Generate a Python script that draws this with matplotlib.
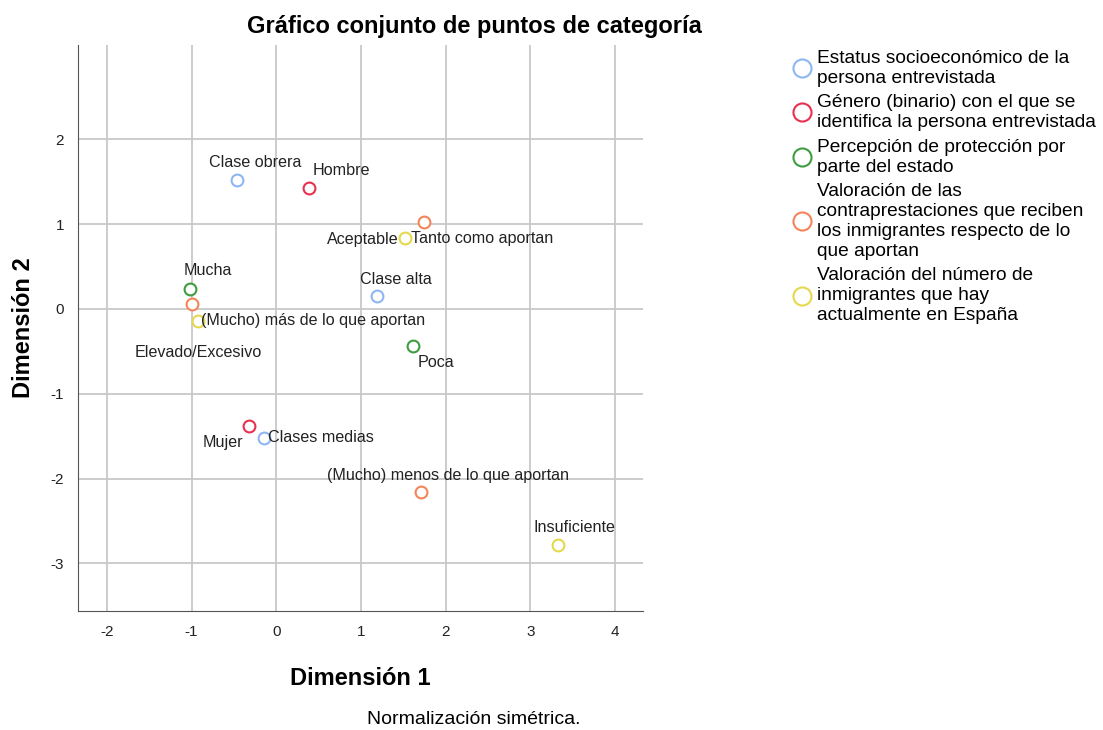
import matplotlib
matplotlib.use('Agg')
import matplotlib.pyplot as plt
from matplotlib.lines import Line2D

plt.rcParams['font.family'] = ['Liberation Sans', 'DejaVu Sans']
plt.rcParams['axes.unicode_minus'] = False

# category coordinates per variable (dimension 1, dimension 2)
estatus_labels = ['Clase obrera', 'Clase alta', 'Clases medias']
estatus_x = [-0.46, 1.19, -0.14]
estatus_y = [1.52, 0.15, -1.52]

genero_labels = ['Hombre', 'Mujer']
genero_x = [0.39, -0.32]
genero_y = [1.43, -1.38]

proteccion_labels = ['Mucha', 'Poca']
proteccion_x = [-1.02, 1.62]
proteccion_y = [0.24, -0.44]

contra_labels = ['Tanto como aportan', '(Mucho) más de lo que aportan', '(Mucho) menos de lo que aportan']
contra_x = [1.75, -0.99, 1.71]
contra_y = [1.03, 0.06, -2.16]

numero_labels = ['Aceptable', 'Elevado/Excesivo', 'Insuficiente']
numero_x = [1.52, -0.92, 3.33]
numero_y = [0.83, -0.14, -2.78]

legend_names = [
    'Estatus socioeconómico de la\npersona entrevistada',
    'Género (binario) con el que se\nidentifica la persona entrevistada',
    'Percepción de protección por\nparte del estado',
    'Valoración de las\ncontraprestaciones que reciben\nlos inmigrantes respecto de lo\nque aportan',
    'Valoración del número de\ninmigrantes que hay\nactualmente en España',
]
colors = ['#8db6f2', '#e8304f', '#3f9c3f', '#f5845a', '#e6d84c']

# label placement: (dx, dy) in pixels, horizontal alignment
estatus_pos = [((18, 17), 'center'), ((19, 17), 'center'), ((4, 0), 'left')]
genero_pos = [((32, 17), 'center'), ((-26, -16), 'center')]
proteccion_pos = [((18, 18), 'center'), ((22, -16), 'center')]
contra_pos = [((-13, -17), 'left'), ((9, -17), 'left'), ((27, 17), 'center')]
numero_pos = [((-6, -1), 'right'), ((0, -32), 'center'), ((16, 17), 'center')]

fig = plt.figure(figsize=(11.03, 7.3), dpi=100)
ax = fig.add_axes([78 / 1103, 1 - 611 / 730, (643 - 78) / 1103, (611 - 45) / 730])

groups = [
    (estatus_x, estatus_y, estatus_labels, estatus_pos),
    (genero_x, genero_y, genero_labels, genero_pos),
    (proteccion_x, proteccion_y, proteccion_labels, proteccion_pos),
    (contra_x, contra_y, contra_labels, contra_pos),
    (numero_x, numero_y, numero_labels, numero_pos),
]

for (xs, ys, labels, pos), c in zip(groups, colors):
    ax.plot(xs, ys, 'o', ls='none', mfc='white', mec=c, mew=1.5, ms=8.5, zorder=3)
    for x, y, lab, (off, ha) in zip(xs, ys, labels, pos):
        ax.annotate(lab, (x, y), xytext=off, textcoords='offset pixels',
                    ha=ha, va='center', fontsize=11.6, color='#222222', zorder=4)

ax.set_xlim(-2.34, 4.33)
ax.set_ylim(-3.56, 3.11)
ax.set_xticks([-2, -1, 0, 1, 2, 3, 4])
ax.set_yticks([-3, -2, -1, 0, 1, 2])
ax.grid(True, color='#c8c8c8', lw=1.3)
ax.set_axisbelow(True)
for s in ['top', 'right']:
    ax.spines[s].set_visible(False)
for s in ['left', 'bottom']:
    ax.spines[s].set_color('#555555')
ax.tick_params(length=0, labelsize=11, pad=10, colors='#222222')

ax.set_xlabel('Dimensión 1', fontsize=17, fontweight='bold', labelpad=20)
ax.set_ylabel('Dimensión 2', fontsize=17, fontweight='bold', labelpad=11)
fig.text(474 / 1103, 1 - 27 / 730, 'Gráfico conjunto de puntos de categoría',
         ha='center', va='center', fontsize=17, fontweight='bold')
fig.text(474 / 1103, 1 - 720 / 730, 'Normalización simétrica.',
         ha='center', va='center', fontsize=14)

handles = [Line2D([], [], marker='o', ls='none', mfc='white', mec=c, mew=1.5, ms=13)
           for c in colors]
leg = fig.legend(handles, legend_names, loc='upper left', bbox_to_anchor=(783 / 1103, 1 - 42 / 730),
                 frameon=False, fontsize=13.8, handletextpad=0.15, labelspacing=0.4,
                 handlelength=1.2, borderaxespad=0)
for t in leg.get_texts():
    t.set_linespacing(1.22)

fig.savefig('out.png', dpi=100)
